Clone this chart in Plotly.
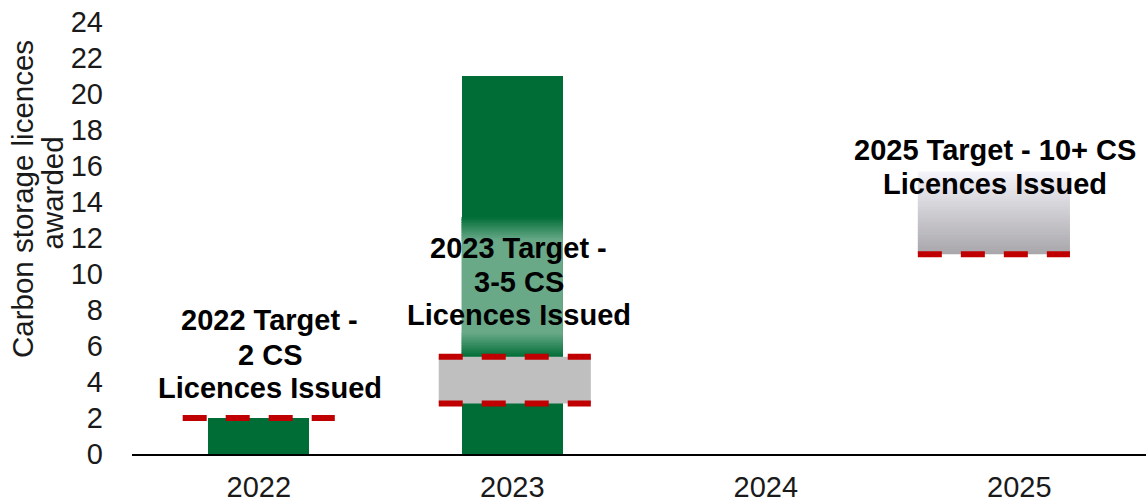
import plotly.graph_objects as go

# ---------------- data ----------------
years = ["2022", "2023", "2024", "2025"]
licences_awarded = [2, 21, None, None]
target_low = [2, 2.8, None, 11.1]      # lower dashed line of each target
target_high = [None, 5.4, None, 15.7]  # upper edge of target band (None = no band)
target_upper_dashed = [False, True, False, False]
y_ticks = [0, 2, 4, 6, 8, 10, 12, 14, 16, 18, 20, 22, 24]
label_lines = [
    ["2022 Target -", "2 CS", "Licences Issued"],
    ["2023 Target -", "3-5 CS", "Licences Issued"],
    None,
    ["2025 Target - 10+ CS", "Licences Issued"],
]
y_title_lines = ["Carbon storage licences", "awarded"]

# ---------------- style / layout constants ----------------
FONT = "'Liberation Sans', Arial, sans-serif"
FS = 29
GREEN = (0, 109, 54)
GREY = "#BFBFBF"
RED = "#C00000"
W, H = 1146, 502
ML, MR, MT, MB = 132, 0, 22, 48
BAR_W = 0.40
TARGET_W = 0.60
target_xoff = [0, 0.01, 0, -0.1]
PX_PER_UNIT = (H - MT - MB) / 24.0
EPS = 0.06  # overlap between gradient strips (data units)


def py2y(py):
    return (H - MB - py) / PX_PER_UNIT


def rgb(c):
    return "rgb(%d,%d,%d)" % tuple(round(v) for v in c)


def lerp(c1, c2, t):
    return tuple(c1[j] + (c2[j] - c1[j]) * t for j in range(3))


# label placements: (x in category units, list of line centers in px)
label_pos = [
    (0.044, [320, 354.5, 388]),
    (1.025, [248, 281.5, 315]),
    None,
    (2.904, [150, 183.5]),
]

xs = list(range(len(years)))
fig = go.Figure()
fig.add_trace(go.Bar(x=xs, y=licences_awarded, width=BAR_W,
                     marker=dict(color=rgb(GREEN), line=dict(width=0)),
                     hoverinfo="skip", showlegend=False))

shapes = []

# translucent-white gradient on the 2023 bar (text background), as blended opaque strips
i23 = 1
x0 = i23 - BAR_W / 2
x1 = i23 + BAR_W / 2
A_MAX = 0.41
light = lerp(GREEN, (255, 255, 255), A_MAX)
ov_top, ov_top_full, ov_bot_full, ov_bot = py2y(217), py2y(240), py2y(333), py2y(357)
N = 14
for k in range(N):
    ya = ov_top - (ov_top - ov_top_full) * k / N
    yb = ov_top - (ov_top - ov_top_full) * (k + 1) / N
    shapes.append(dict(type="rect", xref="x", yref="y", x0=x0, x1=x1, y0=yb - EPS, y1=ya,
                       fillcolor=rgb(lerp(GREEN, light, (k + 0.5) / N)),
                       line=dict(width=0), layer="above"))
shapes.append(dict(type="rect", xref="x", yref="y", x0=x0, x1=x1, y0=ov_bot_full - EPS,
                   y1=ov_top_full, fillcolor=rgb(light), line=dict(width=0), layer="above"))
for k in range(N):
    ya = ov_bot_full - (ov_bot_full - ov_bot) * k / N
    yb = ov_bot_full - (ov_bot_full - ov_bot) * (k + 1) / N
    shapes.append(dict(type="rect", xref="x", yref="y", x0=x0, x1=x1, y0=yb - EPS, y1=ya,
                       fillcolor=rgb(lerp(light, GREEN, (k + 0.5) / N)),
                       line=dict(width=0), layer="above"))

# target bands
for i, (lo, hi) in enumerate(zip(target_low, target_high)):
    if lo is None or hi is None:
        continue
    cx = i + target_xoff[i]
    tx0, tx1 = cx - TARGET_W / 2, cx + TARGET_W / 2
    if i == 3:
        n = 30
        top_c, bot_c = (244, 244, 250), (168, 166, 170)
        for k in range(n):
            ya = hi - (hi - lo) * k / n
            yb = hi - (hi - lo) * (k + 1) / n
            shapes.append(dict(type="rect", xref="x", yref="y", x0=tx0, x1=tx1,
                               y0=max(lo, yb - EPS), y1=ya,
                               fillcolor=rgb(lerp(top_c, bot_c, (k + 0.5) / n)),
                               line=dict(width=0), layer="above"))
    else:
        shapes.append(dict(type="rect", xref="x", yref="y", x0=tx0, x1=tx1, y0=lo, y1=hi,
                           fillcolor=GREY, line=dict(width=0), layer="above"))

# dashed target lines
for i, lo in enumerate(target_low):
    if lo is None:
        continue
    cx = i + target_xoff[i]
    tx0, tx1 = cx - TARGET_W / 2, cx + TARGET_W / 2
    levels = [lo]
    if target_upper_dashed[i]:
        levels.append(target_high[i])
    for lv in levels:
        shapes.append(dict(type="line", xref="x", yref="y", x0=tx0, x1=tx1, y0=lv, y1=lv,
                           line=dict(color=RED, width=6, dash="24px,19px"), layer="above"))

annotations = []
for i, lines in enumerate(label_lines):
    if lines is None:
        continue
    lx, pys = label_pos[i]
    for txt, py in zip(lines, pys):
        annotations.append(dict(x=lx, y=py2y(py), xref="x", yref="y", text="<b>%s</b>" % txt,
                                showarrow=False, xanchor="center", yanchor="middle",
                                font=dict(family=FONT, size=FS, color="black")))

# y-axis title, two rotated lines
for txt, px, py in zip(y_title_lines, [22, 52], [199, 193.5]):
    annotations.append(dict(x=(px - ML) / (W - ML - MR), y=(H - MB - py) / (H - MT - MB),
                            xref="paper", yref="paper", text=txt, textangle=-90,
                            showarrow=False, xanchor="center", yanchor="middle",
                            font=dict(family=FONT, size=FS + 0.5, color="#1a1a1a")))

fig.update_layout(
    width=W, height=H,
    margin=dict(l=ML, r=MR, t=MT, b=MB, pad=0, autoexpand=False),
    plot_bgcolor="white", paper_bgcolor="white",
    shapes=shapes, annotations=annotations,
    font=dict(family=FONT, size=FS, color="#1a1a1a"),
    bargap=0,
    xaxis=dict(range=[-0.5, 3.5], tickvals=xs, ticktext=years, showgrid=False,
               zeroline=False, showline=True, linecolor="black", linewidth=1.5,
               ticks="", ticklabelstandoff=6, automargin=False,
               tickfont=dict(family=FONT, size=FS, color="#1a1a1a")),
    yaxis=dict(range=[0, 24], tickvals=y_ticks, showgrid=False, zeroline=False,
               showline=False, ticks="", ticklabelstandoff=28, automargin=False,
               tickfont=dict(family=FONT, size=FS, color="#1a1a1a")),
)

fig.write_html("out.html", config={"displayModeBar": False},
               post_script="document.body.style.margin='0';document.body.style.padding='0';")
